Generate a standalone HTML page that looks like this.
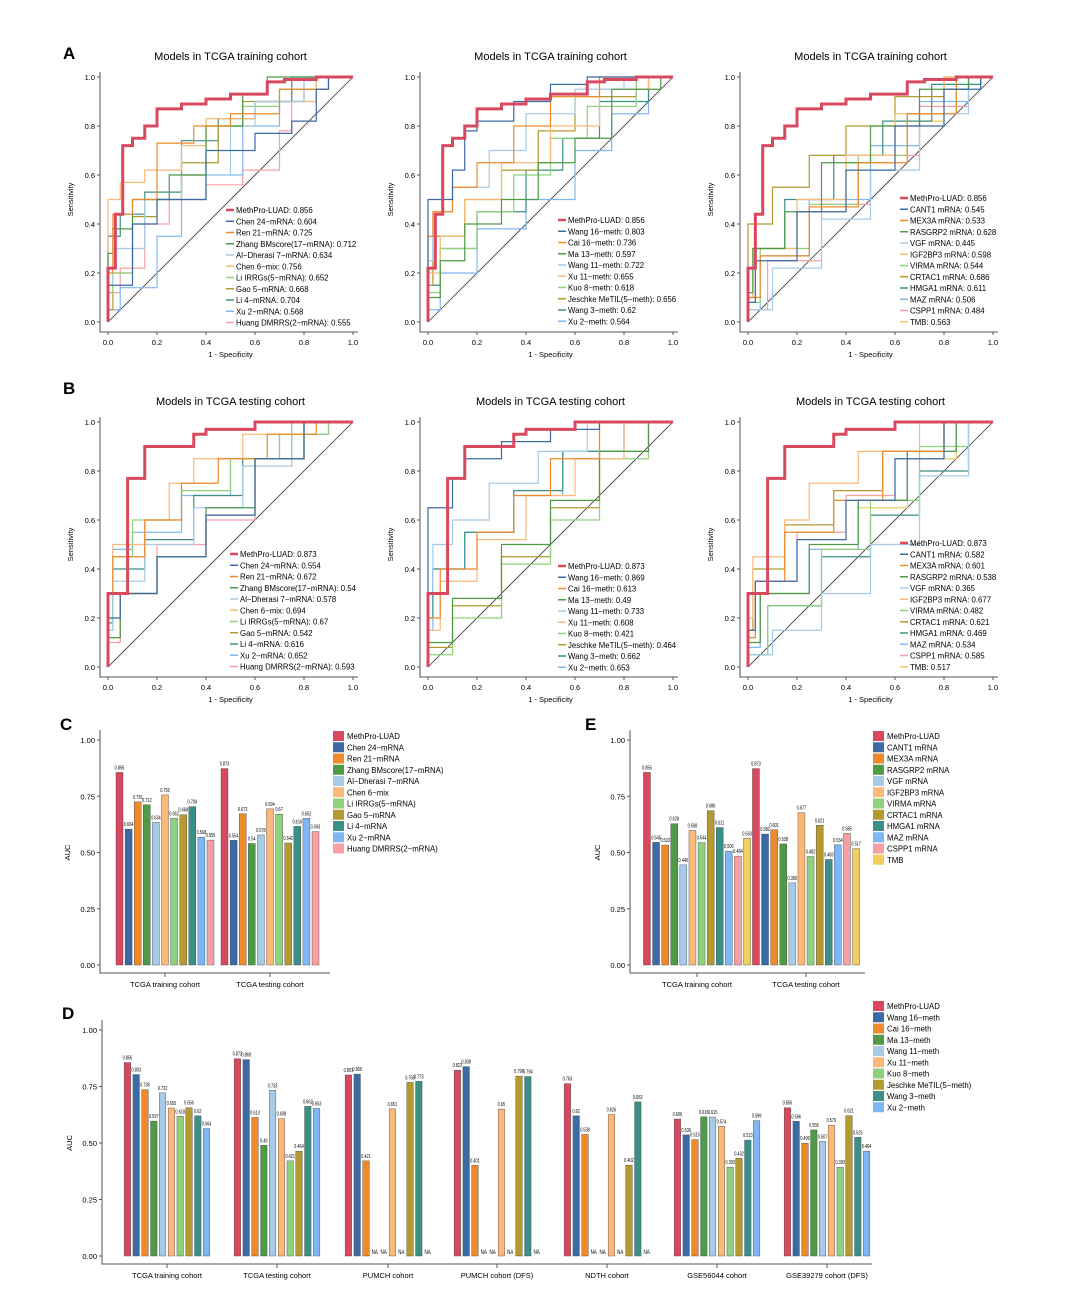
<!DOCTYPE html>
<html><head><meta charset="utf-8"><style>
html,body{margin:0;padding:0;background:#fff}
svg{display:block;font-family:"Liberation Sans",sans-serif}
</style></head><body>
<svg id="fig" width="1080" height="1304" viewBox="0 0 1080 1304"></svg>
<script>
// ---------- DATA ----------
const colMRNA = ["#d9485f","#3c6aa5","#ee8a2a","#4e9a47","#a6cbe8","#fbb978","#8fd17d","#b59a30","#3b8f86","#7fb7f5","#f5a0a5"];
const colMeth = ["#d9485f","#3c6aa5","#ee8a2a","#4e9a47","#a6cbe8","#fbb978","#8fd17d","#b59a30","#3b8f86","#7fb7f5"];
const colGene = ["#d9485f","#3c6aa5","#ee8a2a","#4e9a47","#a6cbe8","#fbb978","#8fd17d","#b59a30","#3b8f86","#7fb7f5","#f5a0a5","#f2ce5c"];

const namesMRNA = ["MethPro-LUAD","Chen 24−mRNA","Ren 21−mRNA","Zhang BMscore(17−mRNA)","Al−Dherasi 7−mRNA","Chen 6−mix","Li IRRGs(5−mRNA)","Gao 5−mRNA","Li 4−mRNA","Xu 2−mRNA","Huang DMRRS(2−mRNA)"];
const namesMeth = ["MethPro-LUAD","Wang 16−meth","Cai 16−meth","Ma 13−meth","Wang 11−meth","Xu 11−meth","Kuo 8−meth","Jeschke MeTIL(5−meth)","Wang 3−meth","Xu 2−meth"];
const namesGene = ["MethPro-LUAD","CANT1 mRNA","MEX3A mRNA","RASGRP2 mRNA","VGF mRNA","IGF2BP3 mRNA","VIRMA mRNA","CRTAC1 mRNA","HMGA1 mRNA","MAZ mRNA","CSPP1 mRNA","TMB"];

const aucMRNAtrain = [0.856,0.604,0.725,0.712,0.634,0.756,0.652,0.668,0.704,0.568,0.555];
const aucMRNAtest  = [0.873,0.554,0.672,0.54,0.578,0.694,0.67,0.542,0.616,0.652,0.593];
const aucMethTrain = [0.856,0.803,0.736,0.597,0.722,0.655,0.618,0.656,0.62,0.564];
const aucMethTest  = [0.873,0.869,0.613,0.49,0.733,0.608,0.421,0.464,0.662,0.653];
const aucGeneTrain = [0.856,0.545,0.533,0.628,0.445,0.598,0.544,0.686,0.611,0.506,0.484,0.563];
const aucGeneTest  = [0.873,0.582,0.601,0.538,0.365,0.677,0.482,0.621,0.469,0.534,0.585,0.517];

const cohortsD = ["TCGA training cohort","TCGA testing cohort","PUMCH cohort","PUMCH cohort (DFS)","NDTH cohort","GSE56044 cohort","GSE39279 cohort (DFS)"];
const aucD = [
 [0.856,0.803,0.736,0.597,0.722,0.655,0.618,0.656,0.62,0.564],
 [0.873,0.869,0.613,0.49,0.733,0.608,0.421,0.464,0.662,0.653],
 [0.801,0.805,0.421,null,null,0.651,null,0.768,0.773,null],
 [0.822,0.838,0.401,null,null,0.650,null,0.796,0.794,null],
 [0.763,0.620,0.538,null,null,0.626,null,0.402,0.682,null],
 [0.606,0.536,0.515,0.616,0.615,0.574,0.393,0.432,0.513,0.599],
 [0.656,0.596,0.499,0.558,0.507,0.579,0.393,0.621,0.525,0.464]
];
const barTicks = [0,0.25,0.5,0.75,1.0];
const barTickLabels = ["0.00","0.25","0.50","0.75","1.00"];
const rocTicks = [0,0.2,0.4,0.6,0.8,1.0];
const rocTickLabels = ["0.0","0.2","0.4","0.6","0.8","1.0"];

// ROC curves [fpr,tpr]
const methTrain = [[0,0],[0,0.22],[0.03,0.22],[0.03,0.44],[0.06,0.44],[0.06,0.69],[0.1,0.72],[0.15,0.75],[0.2,0.8],[0.3,0.87],[0.4,0.89],[0.5,0.91],[0.65,0.93],[0.72,0.98],[0.85,0.99],[1,1]];
const methTest = [[0,0],[0,0.2],[0.08,0.3],[0.1,0.77],[0.15,0.77],[0.15,0.88],[0.35,0.9],[0.4,0.95],[0.6,0.97],[0.75,1],[1,1]];
const rocA1 = [methTrain,
 [[0,0],[0,0.08],[0.1,0.15],[0.2,0.4],[0.4,0.5],[0.6,0.7],[0.75,0.77],[0.85,0.82],[0.9,0.95],[1,1]],
 [[0,0],[0.02,0.2],[0.1,0.44],[0.2,0.5],[0.2,0.69],[0.35,0.73],[0.5,0.8],[0.7,0.85],[0.9,0.95],[1,1]],
 [[0,0],[0.02,0.28],[0.1,0.38],[0.25,0.5],[0.4,0.6],[0.55,0.8],[0.65,0.93],[0.85,1],[1,1]],
 [[0,0],[0.02,0.15],[0.15,0.3],[0.3,0.5],[0.5,0.6],[0.6,0.8],[0.8,0.9],[1,1]],
 [[0,0],[0,0.34],[0.05,0.5],[0.15,0.57],[0.3,0.62],[0.4,0.72],[0.6,0.83],[0.85,0.9],[1,1]],
 [[0,0],[0.02,0.12],[0.1,0.2],[0.15,0.4],[0.3,0.5],[0.4,0.6],[0.55,0.8],[0.7,0.88],[0.9,0.95],[1,1]],
 [[0,0],[0.02,0.05],[0.1,0.2],[0.2,0.43],[0.3,0.5],[0.45,0.65],[0.55,0.8],[0.8,0.9],[1,1]],
 [[0,0],[0,0.22],[0.05,0.35],[0.15,0.44],[0.3,0.53],[0.45,0.74],[0.6,0.83],[0.75,0.9],[1,1]],
 [[0,0],[0.05,0.05],[0.1,0.14],[0.2,0.14],[0.2,0.25],[0.3,0.35],[0.4,0.5],[0.55,0.6],[0.7,0.8],[0.85,0.9],[1,1]],
 [[0,0],[0.05,0.12],[0.15,0.22],[0.25,0.4],[0.4,0.5],[0.55,0.56],[0.7,0.62],[0.75,0.78],[0.85,0.95],[1,1]]];
const rocA2 = [methTrain,
 [[0,0],[0,0.3],[0.1,0.5],[0.15,0.62],[0.2,0.78],[0.35,0.82],[0.5,0.9],[0.65,0.97],[1,1]],
 [[0,0],[0.02,0.35],[0.1,0.45],[0.2,0.55],[0.35,0.65],[0.5,0.8],[0.7,0.92],[1,1]],
 [[0,0],[0.05,0.1],[0.15,0.25],[0.3,0.4],[0.45,0.5],[0.6,0.65],[0.75,0.75],[0.95,0.95],[1,1]],
 [[0,0],[0.02,0.25],[0.1,0.45],[0.25,0.55],[0.4,0.7],[0.6,0.85],[0.8,0.95],[1,1]],
 [[0,0],[0.05,0.2],[0.15,0.35],[0.3,0.5],[0.5,0.65],[0.7,0.8],[0.9,0.95],[1,1]],
 [[0,0],[0.05,0.12],[0.2,0.3],[0.35,0.45],[0.5,0.6],[0.65,0.75],[0.85,0.88],[1,1]],
 [[0,0],[0.02,0.15],[0.15,0.35],[0.3,0.5],[0.45,0.62],[0.6,0.78],[0.85,0.92],[1,1]],
 [[0,0],[0.05,0.15],[0.2,0.3],[0.4,0.45],[0.55,0.62],[0.7,0.75],[0.9,0.9],[1,1]],
 [[0,0],[0.05,0.05],[0.2,0.2],[0.4,0.38],[0.6,0.5],[0.75,0.7],[0.9,0.85],[1,1]]];
const rocA3 = [methTrain,
 [[0,0],[0.03,0.08],[0.2,0.25],[0.4,0.45],[0.6,0.62],[0.8,0.8],[0.95,0.95],[1,1]],
 [[0,0],[0.05,0.1],[0.25,0.27],[0.45,0.47],[0.65,0.65],[0.85,0.85],[1,1]],
 [[0,0],[0.02,0.12],[0.15,0.3],[0.3,0.45],[0.5,0.65],[0.7,0.8],[0.9,0.95],[1,1]],
 [[0,0],[0.1,0.05],[0.3,0.22],[0.5,0.42],[0.7,0.62],[0.9,0.85],[1,1]],
 [[0,0],[0.02,0.1],[0.2,0.3],[0.4,0.5],[0.6,0.68],[0.8,0.85],[1,1]],
 [[0,0],[0.05,0.08],[0.25,0.3],[0.45,0.48],[0.65,0.68],[0.85,0.85],[1,1]],
 [[0,0],[0,0.15],[0.1,0.4],[0.25,0.55],[0.4,0.68],[0.6,0.8],[0.8,0.92],[1,1]],
 [[0,0],[0.02,0.1],[0.15,0.3],[0.35,0.5],[0.55,0.68],[0.75,0.82],[0.95,0.97],[1,1]],
 [[0,0],[0.05,0.05],[0.25,0.27],[0.5,0.5],[0.7,0.72],[0.9,0.9],[1,1]],
 [[0,0],[0.08,0.05],[0.3,0.25],[0.5,0.48],[0.7,0.68],[0.9,0.88],[1,1]],
 [[0,0],[0.03,0.1],[0.2,0.3],[0.4,0.45],[0.6,0.65],[0.8,0.82],[1,1]]];
const rocB1 = [methTest,
 [[0,0],[0.05,0.2],[0.2,0.3],[0.4,0.45],[0.6,0.62],[0.8,0.85],[1,1]],
 [[0,0],[0.02,0.3],[0.15,0.45],[0.3,0.6],[0.45,0.75],[0.65,0.85],[0.85,0.95],[1,1]],
 [[0,0],[0.05,0.12],[0.2,0.3],[0.4,0.45],[0.6,0.65],[0.8,0.85],[1,1]],
 [[0,0],[0.02,0.15],[0.15,0.35],[0.35,0.5],[0.55,0.65],[0.75,0.82],[1,1]],
 [[0,0],[0.02,0.3],[0.15,0.5],[0.25,0.6],[0.35,0.75],[0.55,0.85],[0.8,0.95],[1,1]],
 [[0,0],[0.02,0.2],[0.1,0.45],[0.3,0.6],[0.5,0.72],[0.7,0.85],[0.9,0.95],[1,1]],
 [[0,0],[0.05,0.12],[0.2,0.3],[0.4,0.45],[0.6,0.62],[0.8,0.85],[1,1]],
 [[0,0],[0.02,0.18],[0.15,0.4],[0.35,0.52],[0.55,0.7],[0.75,0.85],[1,1]],
 [[0,0],[0.02,0.15],[0.1,0.48],[0.3,0.55],[0.5,0.7],[0.7,0.85],[0.9,0.95],[1,1]],
 [[0,0],[0.05,0.1],[0.2,0.3],[0.4,0.5],[0.6,0.6],[0.8,0.85],[1,1]]];
const rocB2 = [methTest,
 [[0,0],[0,0.5],[0.1,0.65],[0.15,0.77],[0.3,0.85],[0.5,0.92],[0.7,0.97],[1,1]],
 [[0,0],[0.05,0.2],[0.2,0.4],[0.35,0.55],[0.5,0.7],[0.7,0.85],[1,1]],
 [[0,0],[0.1,0.1],[0.3,0.28],[0.5,0.5],[0.7,0.68],[0.9,0.88],[1,1]],
 [[0,0],[0.02,0.3],[0.1,0.5],[0.25,0.6],[0.45,0.75],[0.65,0.88],[1,1]],
 [[0,0],[0.05,0.15],[0.2,0.35],[0.4,0.52],[0.6,0.7],[0.8,0.85],[1,1]],
 [[0,0],[0.1,0.05],[0.3,0.2],[0.5,0.42],[0.7,0.6],[0.9,0.85],[1,1]],
 [[0,0],[0.1,0.08],[0.3,0.25],[0.5,0.45],[0.7,0.65],[0.9,0.88],[1,1]],
 [[0,0],[0.02,0.2],[0.15,0.4],[0.35,0.55],[0.55,0.72],[0.8,0.88],[1,1]],
 [[0,0],[0.02,0.15],[0.15,0.4],[0.35,0.55],[0.55,0.7],[0.8,0.88],[1,1]]];
const rocB3 = [methTest,
 [[0,0],[0.03,0.15],[0.2,0.35],[0.4,0.52],[0.6,0.68],[0.8,0.85],[1,1]],
 [[0,0],[0.03,0.12],[0.15,0.35],[0.35,0.55],[0.55,0.68],[0.8,0.88],[1,1]],
 [[0,0],[0.05,0.1],[0.25,0.3],[0.45,0.5],[0.65,0.68],[0.85,0.88],[1,1]],
 [[0,0],[0.1,0.05],[0.3,0.15],[0.5,0.3],[0.7,0.5],[0.9,0.78],[1,1]],
 [[0,0],[0.02,0.2],[0.15,0.45],[0.25,0.6],[0.45,0.75],[0.7,0.88],[1,1]],
 [[0,0],[0.08,0.05],[0.3,0.25],[0.5,0.48],[0.7,0.68],[0.9,0.9],[1,1]],
 [[0,0],[0.02,0.15],[0.15,0.4],[0.35,0.58],[0.55,0.72],[0.8,0.88],[1,1]],
 [[0,0],[0.08,0.05],[0.3,0.25],[0.5,0.45],[0.7,0.62],[0.9,0.8],[1,1]],
 [[0,0],[0.05,0.08],[0.25,0.3],[0.45,0.48],[0.65,0.68],[0.85,0.88],[1,1]],
 [[0,0],[0.03,0.12],[0.2,0.35],[0.4,0.55],[0.6,0.7],[0.8,0.85],[1,1]],
 [[0,0],[0.05,0.1],[0.25,0.3],[0.45,0.48],[0.65,0.65],[0.85,0.85],[1,1]]];

// ---------- DRAW ----------
const NS="http://www.w3.org/2000/svg";
const svg=document.getElementById('fig');
function el(tag,attrs,parent,txt){const e=document.createElementNS(NS,tag);for(const k in attrs)e.setAttribute(k,attrs[k]);if(txt!==undefined)e.textContent=txt;(parent||svg).appendChild(e);return e;}

function panelLetter(t,x,y){const e=el('text',{x:x,y:y,'font-size':17,'font-weight':'bold'},svg,t);

}

function roc(x0,y0,title,curves,names,aucs,cols,legX,legY,id){
  const g=el('g',{});
  
  
  const W=245,H=245;
  const sx=v=>x0+v*W, sy=v=>y0+H-v*H;
  const t=el('text',{x:x0+W/2,y:y0-17,'font-size':11,'text-anchor':'middle'},g,title);
  
  
  el('path',{d:`M${x0-8},${y0-5}V${y0+H+10}H${x0+W+5}`,fill:'none',stroke:'#555','stroke-width':1},g);
  rocTicks.forEach((v,i)=>{
    el('line',{x1:x0-8,x2:x0-11,y1:sy(v),y2:sy(v),stroke:'#555'},g);
    el('text',{x:x0-13,y:sy(v)+3,'font-size':7.5,'text-anchor':'end'},g,rocTickLabels[i]);
    el('line',{x1:sx(v),x2:sx(v),y1:y0+H+10,y2:y0+H+13,stroke:'#555'},g);
    el('text',{x:sx(v),y:y0+H+23,'font-size':7.5,'text-anchor':'middle'},g,rocTickLabels[i]);
  });
  const xl=el('text',{x:x0+W/2,y:y0+H+35,'font-size':7.5,'text-anchor':'middle'},g,'1 - Specificity');
  
  
  const yl=el('text',{x:0,y:0,'font-size':7.5,'text-anchor':'middle',transform:`translate(${x0-35},${y0+H/2}) rotate(-90)`},g,'Sensitivity');
  
  
  el('line',{x1:sx(0),y1:sy(0),x2:sx(1),y2:sy(1),stroke:'#333','stroke-width':0.8},g);
  for(let c=curves.length-1;c>=0;c--){
    const pts=curves[c];let d=`M${sx(pts[0][0])},${sy(pts[0][1])}`;
    for(let i=1;i<pts.length;i++){d+=`V${sy(pts[i][1])}H${sx(pts[i][0])}`;}
    const p=el('path',{d:d,fill:'none',stroke:cols[c],'stroke-width':c===0?3:1.2},g);
    
    
  }
  names.forEach((n,i)=>{
    const yy=legY+i*11.25;
    const li=el('g',{},g);
    
    
    el('line',{x1:legX-8,x2:legX,y1:yy,y2:yy,stroke:cols[i],'stroke-width':i===0?2.5:1.5},li);
    el('text',{x:legX+2,y:yy+3,'font-size':7.8},li,n+': '+String(aucs[i]));
  });
}

function bars(x0,yTop,yBot,groupsVals,centers,barW,pitch,cols,groupNames,id,axisRight){
  const g=el('g',{});
  
  
  const sy=v=>yBot-v*(yBot-yTop);
  el('path',{d:`M${x0},${yTop-10}V${yBot+8}H${axisRight}`,fill:'none',stroke:'#555'},g);
  barTicks.forEach((v,i)=>{
    el('line',{x1:x0,x2:x0-3,y1:sy(v),y2:sy(v),stroke:'#555'},g);
    el('text',{x:x0-5,y:sy(v)+3,'font-size':7.5,'text-anchor':'end'},g,barTickLabels[i]);
  });
  const yl=el('text',{x:0,y:0,'font-size':7.5,'text-anchor':'middle',transform:`translate(${x0-30},${(yTop+yBot)/2}) rotate(-90)`},g,'AUC');
  
  
  groupsVals.forEach((vals,gi)=>{
    const n=vals.length, start=centers[gi]-((n-1)*pitch)/2;
    el('line',{x1:centers[gi],x2:centers[gi],y1:yBot+8,y2:yBot+12,stroke:'#555'},g);
    const gl=el('text',{x:centers[gi],y:yBot+22,'font-size':7.5,'text-anchor':'middle'},g,groupNames[gi]);
    
    
    vals.forEach((v,i)=>{
      const cx=start+i*pitch;
      if(v===null){
        el('text',{x:cx,y:yBot-2,'font-size':6,'text-anchor':'middle',transform:`translate(${cx},${yBot-2}) scale(0.75,1) translate(${-cx},${-(yBot-2)})`},g,'NA');
        return;
      }
      const r=el('rect',{x:cx-barW/2,y:sy(v),width:barW,height:yBot-sy(v),fill:cols[i],stroke:'#444','stroke-width':0.4},g);
      
      
      el('text',{x:cx,y:sy(v)-3,'font-size':5.5,'text-anchor':'middle',transform:`translate(${cx},0) scale(0.7,1) translate(${-cx},0)`},g,String(v));
    });
  });
}
function barLegend(x,y,names,cols,id){
  const g=el('g',{});
  
  
  names.forEach((n,i)=>{
    const yy=y+i*11.25;
    el('rect',{x:x,y:yy-5,width:11,height:10,fill:cols[i]},g);
    el('text',{x:x+14,y:yy+3,'font-size':7.8},g,n);
  });
}

panelLetter('A',63,59);
roc(108,77,'Models in TCGA training cohort',rocA1,namesMRNA,aucMRNAtrain,colMRNA,234,210,'a1');
roc(428,77,'Models in TCGA training cohort',rocA2,namesMeth,aucMethTrain,colMeth,566,220,'a2');
roc(748,77,'Models in TCGA training cohort',rocA3,namesGene,aucGeneTrain,colGene,908,198,'a3');
panelLetter('B',63,394);
roc(108,422,'Models in TCGA testing cohort',rocB1,namesMRNA,aucMRNAtest,colMRNA,238,554,'b1');
roc(428,422,'Models in TCGA testing cohort',rocB2,namesMeth,aucMethTest,colMeth,566,566,'b2');
roc(748,422,'Models in TCGA testing cohort',rocB3,namesGene,aucGeneTest,colGene,908,543,'b3');

panelLetter('C',60,730);
bars(100,740,965,[aucMRNAtrain,aucMRNAtest],[165,270],7,9.1,colMRNA,["TCGA training cohort","TCGA testing cohort"],'c',330);
barLegend(333,736,namesMRNA,colMRNA,'c');
panelLetter('E',585,730);
bars(630,740,965,[aucGeneTrain,aucGeneTest],[697,806],7,9.1,colGene,["TCGA training cohort","TCGA testing cohort"],'e',865);
barLegend(873,736,namesGene,colGene,'e');
panelLetter('D',62,1019);
bars(102,1030,1256,aucD,[167,277,388,497,607,717,827],6.5,8.8,colMeth,cohortsD,'d',872);
barLegend(873,1006,namesMeth,colMeth,'d');
</script>
</body></html>
